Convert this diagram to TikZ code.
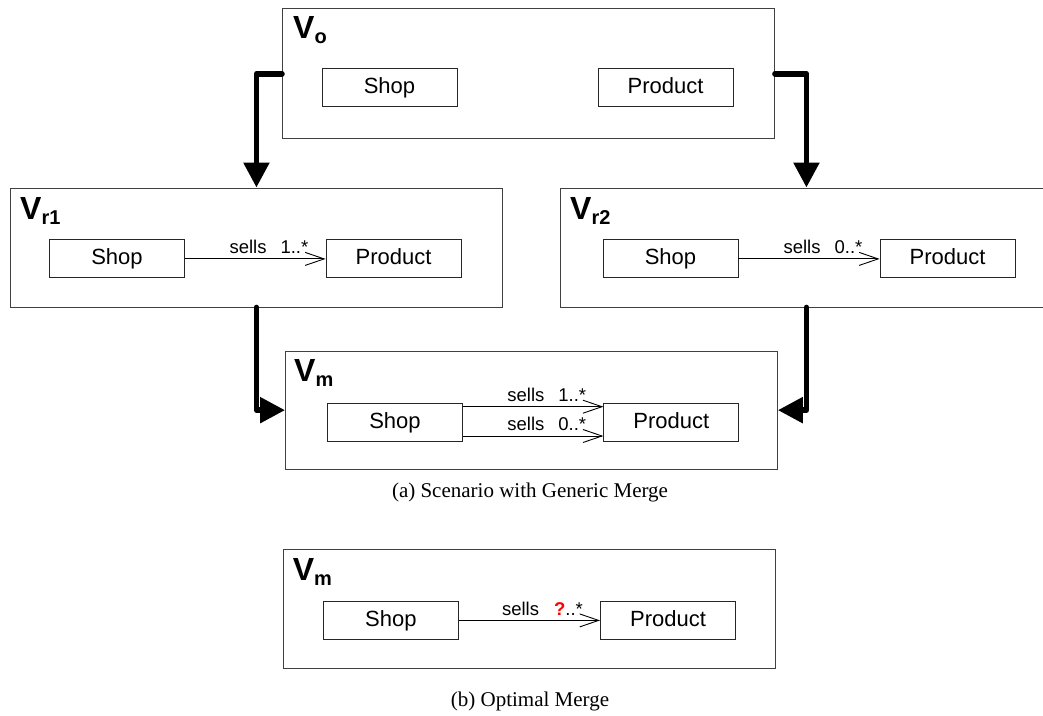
\documentclass[tikz,border=0pt]{standalone}
\usepackage{fontspec}
\setmainfont{Liberation Serif}
\setsansfont{Liberation Sans}
\usetikzlibrary{arrows.meta,calc}

\newcommand\viewname[1]{V\raisebox{-5pt}{\fontsize{20}{20}\selectfont #1}}

\begin{document}
\begin{tikzpicture}[x=1pt,y=-1pt,
  view/.style={draw=black!75, line width=0.9pt, minimum width=492pt,
    minimum height=119pt, anchor=north west, inner sep=0pt},
  cls/.style={draw=black!85, line width=0.9pt, minimum width=135pt,
    minimum height=38pt, inner sep=0pt, text height=16pt, text depth=4.5pt,
    font=\sffamily\fontsize{22}{22}\selectfont},
  vname/.style={anchor=base west, inner sep=0pt,
    font=\sffamily\bfseries\fontsize{32}{32}\selectfont},
  assoc/.style={line width=0.9pt, -{Straight Barb[length=19pt,width=13pt]}},
  mult/.style={anchor=base east, inner sep=0pt,
    font=\sffamily\fontsize{18.5}{18.5}\selectfont},
  flow/.style={line width=5.5pt, line cap=round, line join=round,
    -{Triangle[length=25pt,width=25pt]}},
  caption/.style={anchor=base, inner sep=0pt, font=\fontsize{21}{21}\selectfont}
]
\useasboundingbox (0,0) rectangle (1043,715);

% ---------- views ----------
\node[view, minimum height=130pt] (vo)  at (282,8.3)   {};
\node[view] (vr1) at (10,187.5)  {};
\node[view] (vr2) at (560,187.5) {};
\node[view, minimum height=118pt] (vm)  at (285,350.7) {};
\node[view] (vmb) at (282.7,549.3) {};

% view names
\node[vname] (nvo)  at ($(vo.north west)+(11,30)$)  {\viewname{o}};
\node[vname] (nvr1) at ($(vr1.north west)+(10,32)$) {\viewname{r1}};
\node[vname] (nvr2) at ($(vr2.north west)+(10,32)$) {\viewname{r2}};
\node[vname] (nvm)  at ($(vm.north west)+(9,31)$)   {\viewname{m}};
\node[vname] (nvmb) at ($(vmb.north west)+(10,31)$) {\viewname{m}};

% ---------- classes ----------
\node[cls] (so)  at (389.5,87.3)  {Shop};
\node[cls] (po)  at (665.5,87.3)  {Product};
\node[cls] (s1)  at (117,258.9)   {Shop};
\node[cls] (p1)  at (393.5,258.9) {Product};
\node[cls] (s2)  at (670.5,258.9) {Shop};
\node[cls] (p2)  at (947.5,258.9) {Product};
\node[cls] (sm)  at (395,422.5)   {Shop};
\node[cls] (pm)  at (671.3,422.5) {Product};
\node[cls] (sb)  at (390.8,620.4) {Shop};
\node[cls] (pb)  at (668,620.4)   {Product};

% ---------- associations ----------
\draw[assoc] (s1.east) -- (p1.west);
\node[mult] (m1) at ([xshift=-17pt,yshift=5pt]p1.west) {sells\hspace{14pt}1..*};

\draw[assoc] (s2.east) -- (p2.west);
\node[mult] (m2) at ([xshift=-17pt,yshift=5pt]p2.west) {sells\hspace{14pt}0..*};

\draw[assoc] ([yshift=15.8pt]sm.east) -- ([yshift=15.8pt]pm.west);
\node[mult] (m3) at ([xshift=-17pt,yshift=20.8pt]pm.west) {sells\hspace{14pt}1..*};
\draw[assoc] ([yshift=-13.5pt]sm.east) -- ([yshift=-13.5pt]pm.west);
\node[mult] (m4) at ([xshift=-17pt,yshift=-7.5pt]pm.west) {sells\hspace{14pt}0..*};

\draw[assoc] (sb.east) -- (pb.west);
\node[mult] (m5) at ([xshift=-17pt,yshift=5pt]pb.west)
  {sells\hspace{15pt}{\bfseries\color{red}?}..*};

% ---------- flows between views ----------
\draw[flow] (vo.west) -| (vr1.north);
\draw[flow] (vo.east) -| (vr2.north);
\draw[flow] (vr1.south) |- (vm.west);
\draw[flow] (vr2.south) |- (vm.east);

% ---------- captions ----------
\node[caption] (capa) at (530,497) {(a) Scenario with Generic Merge};
\node[caption] (capb) at (530,706) {(b) Optimal Merge};
\end{tikzpicture}
\end{document}
